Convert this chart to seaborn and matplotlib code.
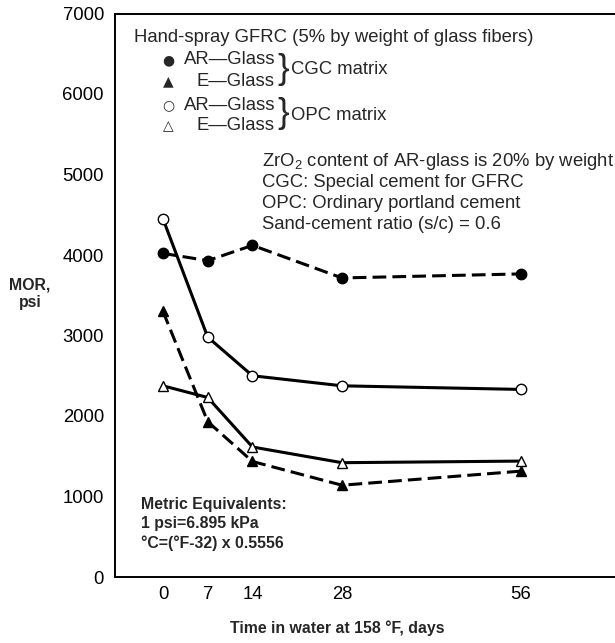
import pandas as pd
import matplotlib
matplotlib.use('Agg')
import matplotlib.pyplot as plt
import seaborn as sns

# %% dados
dias = [0, 7, 14, 28, 56]
ar_cgc = [4020, 3930, 4120, 3715, 3765]   # AR-Glass, matriz CGC
e_cgc = [3300, 1930, 1435, 1140, 1315]    # E-Glass, matriz CGC
ar_opc = [4450, 2980, 2500, 2375, 2330]   # AR-Glass, matriz OPC
e_opc = [2375, 2230, 1615, 1420, 1440]    # E-Glass, matriz OPC
y_ticks = [0, 1000, 2000, 3000, 4000, 5000, 6000, 7000]

df = pd.DataFrame({'dias': dias, 'ar_cgc': ar_cgc, 'e_cgc': e_cgc,
                   'ar_opc': ar_opc, 'e_opc': e_opc})

# %% estilo
sns.set_style('white')
plt.rcParams['font.family'] = ['Liberation Sans', 'DejaVu Sans']
plt.rcParams['mathtext.fontset'] = 'custom'
plt.rcParams['mathtext.rm'] = 'Liberation Sans'

W, H = 615, 643
fig = plt.figure(figsize=(W / 100, H / 100), dpi=100)
ax = fig.add_axes([115 / W, 1 - 577 / H, 500 / W, (577 - 13.5) / H])

tracejado = (0, (4.5, 2))
lw = 2.2
series = [
    ('ar_cgc', 'o', 'black', tracejado),
    ('e_cgc', '^', 'black', tracejado),
    ('ar_opc', 'o', 'white', '-'),
    ('e_opc', '^', 'white', '-'),
]
for col, mk, face, ls in series:
    sns.lineplot(data=df, x='dias', y=col, ax=ax, color='black', lw=lw,
                 linestyle=ls, marker=mk, markersize=7.5,
                 markerfacecolor=face, markeredgecolor='black',
                 markeredgewidth=1.0, zorder=3)

ax.set_xlim(-7.5, 70.7)
ax.set_ylim(0, 7000)
ax.set_xticks(dias)
ax.set_yticks(y_ticks)
ax.tick_params(axis='both', direction='in', labelsize=13.3, width=1.1,
               colors='black')
ax.tick_params(axis='x', length=8.5, pad=6.5)
ax.tick_params(axis='y', length=9.4, pad=8)
ax.set_xlabel('')
ax.set_ylabel('')
for s in ['left', 'bottom', 'top']:
    ax.spines[s].set_linewidth(1.4)
    ax.spines[s].set_color('black')
ax.spines['right'].set_visible(False)


# %% textos (posições em pixels da figura)
def txt(x, y, s, **kw):
    fig.text(x / W, 1 - y / H, s, va='center', **kw)


fs = 13.3
txt(134, 37, 'Hand-spray GFRC (5% by weight of glass fibers)', fontsize=fs)
simb = ['●', '▲', '○', '△']
ys = [60, 81, 105, 126]
rot = ['AR—Glass', 'E—Glass', 'AR—Glass', 'E—Glass']
for s, y, r in zip(simb, ys, rot):
    txt(168, y, s, fontsize=10, ha='center', family=['DejaVu Sans'])
    txt(275, y, r, fontsize=fs, ha='right')
txt(277, 69, '}', fontsize=25, ha='left')
txt(277, 114, '}', fontsize=25, ha='left')
txt(291, 70, 'CGC matrix', fontsize=fs)
txt(291, 115, 'OPC matrix', fontsize=fs)

notas = ['ZrO$_2$ content of AR-glass is 20% by weight',
         'CGC: Special cement for GFRC',
         'OPC: Ordinary portland cement',
         'Sand-cement ratio (s/c) = 0.6']
for i, n in enumerate(notas):
    txt(262, 162 + 20.7 * i, n, fontsize=fs)

metric = ['Metric Equivalents:', '1 psi=6.895 kPa', '°C=(°F-32) x 0.5556']
for i, m in enumerate(metric):
    txt(141, 504 + 19.7 * i, m, fontsize=11.4, fontweight='bold')

txt(30, 294, 'MOR,\npsi', fontsize=11.4, fontweight='bold', ha='center',
    linespacing=1.25)
txt(337, 628, 'Time in water at 158 °F, days', fontsize=11.4,
    fontweight='bold', ha='center')

plt.savefig('out.png', dpi=100)
